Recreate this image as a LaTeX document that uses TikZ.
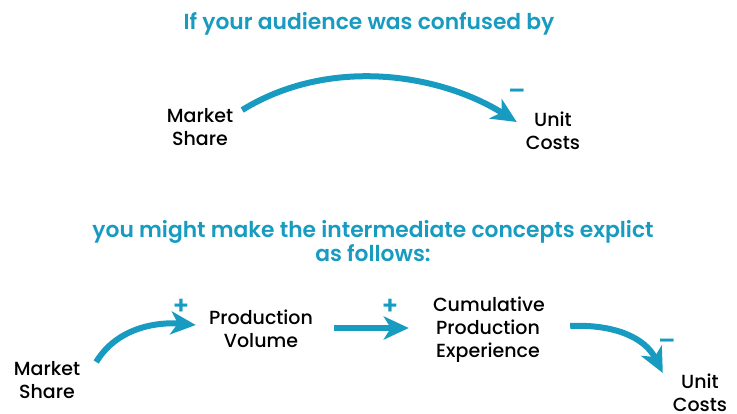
\documentclass[tikz,border=0pt]{standalone}
\usepackage{fontspec}
\setmainfont{Poppins}[UprightFont={* Medium}, BoldFont={* SemiBold}]
\usetikzlibrary{arrows.meta}
\definecolor{loopblue}{RGB}{24,155,192}
\begin{document}
\begin{tikzpicture}[x=1pt,y=-1pt,
  heading/.style={text=loopblue, font=\fontsize{21.8}{24}\selectfont\bfseries, align=center, inner sep=0pt},
  concept/.style={text=black, font=\fontsize{19}{23}\selectfont, align=center, inner sep=0pt},
  polarity/.style={text=loopblue, font=\fontsize{25}{25}\selectfont\bfseries, inner sep=0pt},
  link/.style={draw=loopblue, line width=6pt, -{Stealth[length=25pt,width=23pt,inset=7pt]}}]
\useasboundingbox (0,0) rectangle (737,413);

% headings
\node[heading] (h1) at (369,24) {If your audience was confused by};
\node[heading] (h2) at (373,241) {you might make the intermediate concepts explict\\as follows:};

% direct link
\node[concept, text width=76pt] (ms1) at (200,127) {Market\\Share};
\node[concept, text width=64pt] (uc1) at (553,131) {Unit\\Costs};
\draw[link] ([xshift=4pt,yshift=17pt]ms1.east) .. controls (330,56) and (440,74) .. ([xshift=-4pt,yshift=9pt]uc1.west);
\node[polarity] (s1) at (517,94) {–};

% expanded chain
\node[concept, text width=76pt] (ms2) at (47,380) {Market\\Share};
\node[concept, text width=110pt] (pv) at (261,329) {Production\\Volume};
\node[concept, text width=110pt] (cpe) at (488,330) {Cumulative\\Production\\Experience};
\node[concept, text width=64pt] (uc2) at (700,393) {Unit\\Costs};

\draw[link] ([xshift=11pt,yshift=18pt]ms2.east) .. controls (118,326) and (160,322) .. ([xshift=-10pt,yshift=4pt]pv.west);
\draw[link] ([xshift=18pt,yshift=1pt]pv.east) -- ([xshift=-24pt,yshift=2pt]cpe.west);
\draw[link] ([xshift=27pt,yshift=4pt]cpe.east) .. controls (615,324) and (645,338) .. ([xshift=-5pt,yshift=20pt]uc2.west);

\node[polarity] (s2) at (181,307) {+};
\node[polarity] (s3) at (390,307) {+};
\node[polarity] (s4) at (667,344) {–};
\end{tikzpicture}
\end{document}
